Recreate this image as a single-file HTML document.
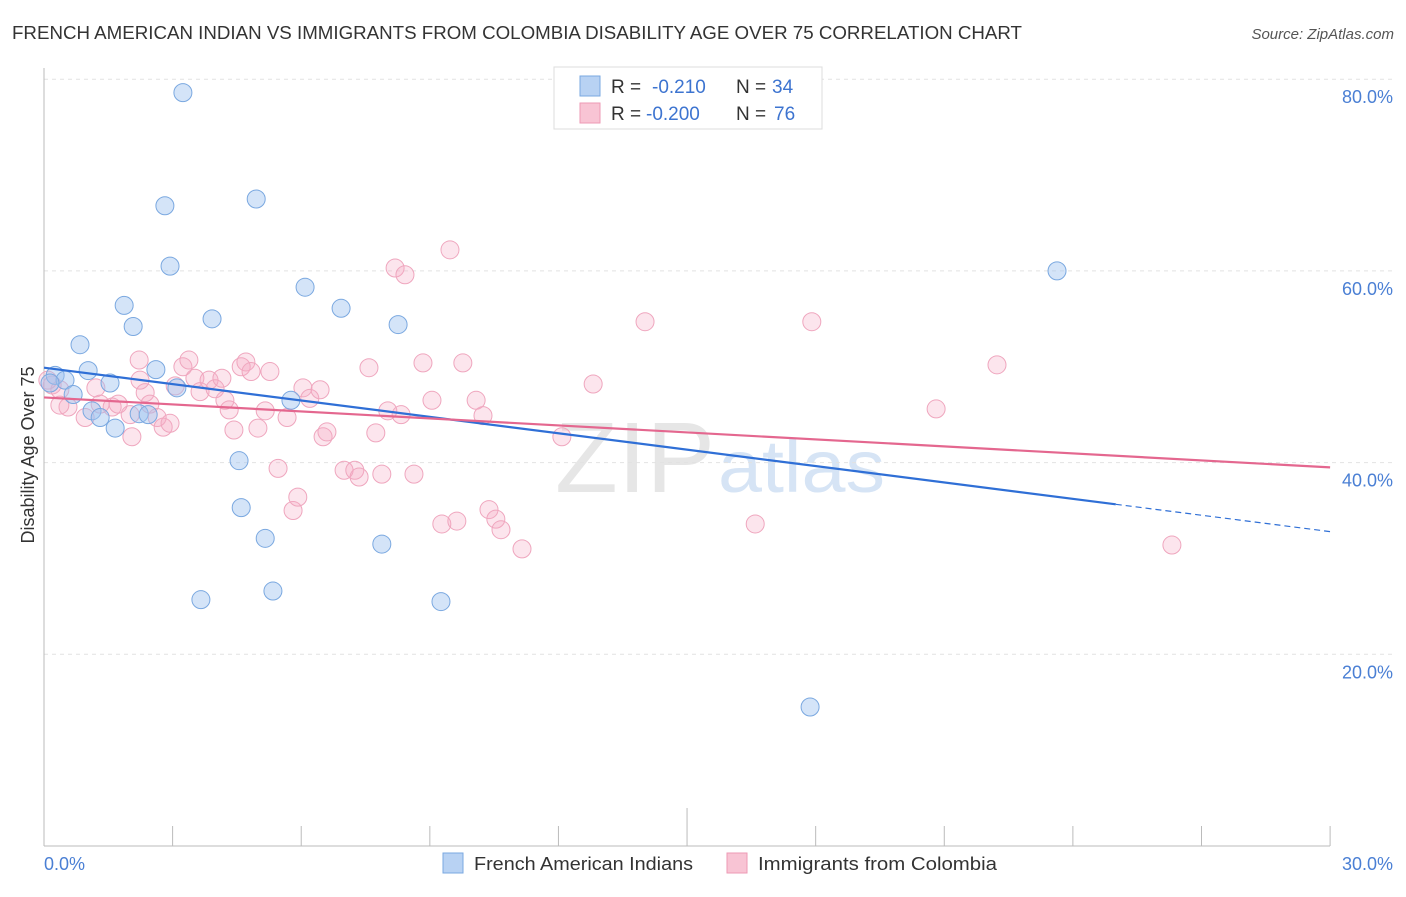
<!DOCTYPE html>
<html><head><meta charset="utf-8"><style>
body{margin:0;background:#fff;font-family:"Liberation Sans",sans-serif;}
svg text{font-family:"Liberation Sans",sans-serif;}
</style></head><body>
<svg id="chart" width="1406" height="892">
<text x="12" y="39" font-size="18" fill="#333" textLength="1010" lengthAdjust="spacingAndGlyphs">FRENCH AMERICAN INDIAN VS IMMIGRANTS FROM COLOMBIA DISABILITY AGE OVER 75 CORRELATION CHART</text>
<text x="1394" y="39" font-size="15" fill="#555" font-style="italic" text-anchor="end">Source: ZipAtlas.com</text>
<text x="555" y="492" font-size="100" fill="#e6e6e6" textLength="160" lengthAdjust="spacingAndGlyphs" font-family="Liberation Serif">ZIP</text>
<text x="718" y="492" font-size="74" fill="#d6e4f5" textLength="167" lengthAdjust="spacingAndGlyphs">atlas</text>
<g id="grid"></g><g id="axes"></g><g id="pts"></g><g id="trends"></g>
<text transform="translate(34,455) rotate(-90)" font-size="18" fill="#333" text-anchor="middle">Disability Age Over 75</text>
<text x="44" y="870" font-size="18" fill="#4a7fd4">0.0%</text>
<text x="1393" y="870" font-size="18" fill="#4a7fd4" text-anchor="end">30.0%</text>
<g>
<rect x="554" y="67" width="268" height="62" fill="#fff" stroke="#ddd"/>
<rect x="580" y="76" width="20" height="20" fill="#b8d2f3" stroke="#7aa8e0"/>
<rect x="580" y="103" width="20" height="20" fill="#f8c4d4" stroke="#ee9ab5"/>
<text x="611" y="93" font-size="19" fill="#333">R = </text><text x="652" y="93" font-size="19" fill="#3d74d0">-0.210</text>
<text x="736" y="93" font-size="19" fill="#333">N = </text><text x="772" y="93" font-size="19" fill="#3d74d0">34</text>
<text x="611" y="120" font-size="19" fill="#333">R = </text><text x="646" y="120" font-size="19" fill="#3d74d0">-0.200</text>
<text x="736" y="120" font-size="19" fill="#333">N = </text><text x="774" y="120" font-size="19" fill="#3d74d0">76</text>
</g>
<g>
<rect x="443" y="853" width="20" height="20" fill="#b8d2f3" stroke="#7aa8e0"/>
<text x="474" y="870" font-size="18" fill="#333" textLength="219" lengthAdjust="spacingAndGlyphs">French American Indians</text>
<rect x="727" y="853" width="20" height="20" fill="#f8c4d4" stroke="#ee9ab5"/>
<text x="758" y="870" font-size="18" fill="#333" textLength="239" lengthAdjust="spacingAndGlyphs">Immigrants from Colombia</text>
</g>
</svg>
<script>
const yTicks=[20,40,60,80];
const yTickLabels=["20.0%","40.0%","60.0%","80.0%"];
const xTicks=[0,3,6,9,12,15,18,21,24,27,30];
const blueX=[3.24,2.82,4.95,2.94,6.09,1.87,2.08,3.92,6.93,8.26,0.84,1.03,2.61,1.54,0.26,0.49,3.10,5.76,0.68,1.12,1.31,1.66,2.22,2.43,4.55,4.60,5.16,7.88,3.66,5.34,9.26,17.87,23.63,0.14];
const blueY=[78.6,66.8,67.5,60.5,58.3,56.4,54.2,55.0,56.1,54.4,52.3,49.6,49.7,48.3,49.1,48.6,47.8,46.5,47.1,45.4,44.7,43.6,45.1,45.0,40.2,35.3,32.1,31.5,25.7,26.6,25.5,14.5,60.0,48.3];
const pinkX=[0.19,0.37,0.09,0.56,0.96,1.21,1.59,1.73,2.05,2.22,2.36,2.47,2.64,2.78,2.94,3.06,3.24,3.38,3.52,3.64,3.85,3.99,4.15,4.32,4.43,4.60,4.71,4.83,4.99,5.16,5.27,5.46,5.67,5.81,5.92,6.04,6.20,6.44,6.51,6.60,7.00,7.25,7.35,7.58,7.74,7.88,8.02,8.19,8.33,8.42,8.63,8.84,9.05,9.28,9.47,9.63,9.77,10.08,10.24,10.38,10.54,10.66,11.15,12.08,12.81,14.02,16.59,17.91,20.81,22.23,26.31,1.31,2.01,0.37,2.24,4.22];
const pinkY=[48.1,47.6,48.6,45.8,44.7,47.8,45.8,46.1,42.7,50.7,47.3,46.1,44.7,43.7,44.1,48.0,50.0,50.7,48.8,47.4,48.6,47.7,48.8,45.5,43.4,50.0,50.5,49.5,43.6,45.4,49.5,39.4,44.7,35.0,36.4,47.8,46.7,47.6,42.7,43.2,39.2,39.2,38.5,49.9,43.1,38.8,45.4,60.3,45.0,59.6,38.8,50.4,46.5,33.6,62.2,33.9,50.4,46.5,44.9,35.1,34.1,33.0,31.0,42.7,48.2,54.7,33.6,54.7,45.6,50.2,31.4,46.1,45.0,46.0,48.6,46.5];
const blueTrend=[49.9,32.8], blueSolidEnd=25.0;
const pinkTrend=[46.8,39.5];
const NS="http://www.w3.org/2000/svg";
const xs=p=>44+p*42.87, ys=v=>846-v*9.585;
function mk(t,a,parent){const e=document.createElementNS(NS,t);for(const k in a)e.setAttribute(k,a[k]);document.getElementById(parent).appendChild(e);return e;}
yTicks.forEach((v,i)=>{
 const l=mk('line',{x1:44,x2:1394,y1:ys(v),y2:ys(v),stroke:'#e2e2e2','stroke-dasharray':'4,4'},'grid');
 
 
 const t=mk('text',{x:1393,y:ys(v)+24,'font-size':18,fill:'#4a7fd4','text-anchor':'end'},'grid');
 t.textContent=yTickLabels[i];
 
 
});
const ya=mk('line',{x1:44,x2:44,y1:68,y2:846,stroke:'#bbb'},'axes');


const xa=mk('line',{x1:44,x2:1330,y1:846,y2:846,stroke:'#bbb'},'axes');


xTicks.forEach(p=>{
 const t=mk('line',{x1:xs(p),x2:xs(p),y1:(p==15?808:826),y2:846,stroke:'#bbb'},'axes');
 
 
});
pinkX.forEach((p,i)=>{
 const c=mk('circle',{cx:xs(p),cy:ys(pinkY[i]),r:9,fill:'rgba(245,170,195,0.3)',stroke:'#efa6be','stroke-width':1},'pts');
 
 
});
blueX.forEach((p,i)=>{
 const c=mk('circle',{cx:xs(p),cy:ys(blueY[i]),r:9,fill:'rgba(160,195,240,0.45)',stroke:'#7aa8e0','stroke-width':1},'pts');
 
 
});
const by=p=>blueTrend[0]+(blueTrend[1]-blueTrend[0])*p/30;
const b1=mk('line',{x1:xs(0),y1:ys(by(0)),x2:xs(blueSolidEnd),y2:ys(by(blueSolidEnd)),stroke:'#2f6fd6','stroke-width':2.2},'trends');


const b2=mk('line',{x1:xs(blueSolidEnd),y1:ys(by(blueSolidEnd)),x2:xs(30),y2:ys(by(30)),stroke:'#2f6fd6','stroke-width':1.2,'stroke-dasharray':'6,4'},'trends');


const p1=mk('line',{x1:xs(0),y1:ys(pinkTrend[0]),x2:xs(30),y2:ys(pinkTrend[1]),stroke:'#e4678f','stroke-width':2.2},'trends');


</script>
</body></html>
